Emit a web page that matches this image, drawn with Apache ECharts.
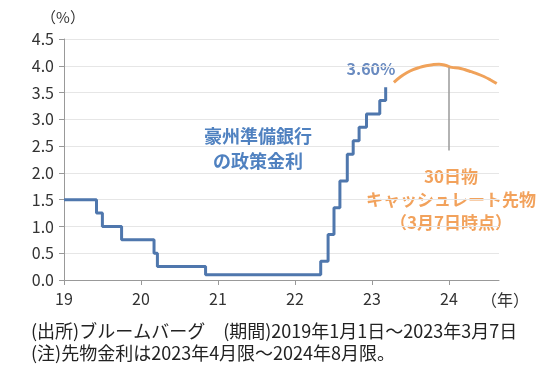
<!DOCTYPE html>
<html lang="ja">
<head>
<meta charset="UTF-8">
<script src="https://cdn.jsdelivr.net/npm/echarts@6/dist/echarts.min.js"></script>
<style>
  html, body { margin: 0; padding: 0; background: #fff; }
  #container { width: 540px; height: 377px; }
</style>
</head>
<body>
<div id="container"></div>
<script>
  // 政策金利 (変更日, %)
  var rateDates = ['2019-01-01', '2019-06-04', '2019-07-02', '2019-10-01', '2020-03-03', '2020-03-19',
    '2020-11-03', '2022-05-03', '2022-06-07', '2022-07-05', '2022-08-02', '2022-09-06', '2022-10-04',
    '2022-11-01', '2022-12-06', '2023-02-07', '2023-03-07'];
  var rateValues = [1.50, 1.25, 1.00, 0.75, 0.50, 0.25, 0.10, 0.35, 0.85, 1.35, 1.85, 2.35, 2.60,
    2.85, 3.10, 3.35, 3.60];

  // 30日物キャッシュレート先物 (限月の中旬に表示, %)
  var futMonths = ['2023-04-15', '2023-05-15', '2023-06-15', '2023-07-15', '2023-08-15', '2023-09-15',
    '2023-10-15', '2023-11-15', '2023-12-15', '2024-01-15', '2024-02-15', '2024-03-15', '2024-04-15',
    '2024-05-15', '2024-06-15', '2024-07-15', '2024-08-15'];
  var futValues = [3.69, 3.79, 3.87, 3.93, 3.97, 4.00, 4.02, 4.03, 4.01, 3.97, 3.96, 3.93, 3.89,
    3.85, 3.80, 3.74, 3.67];

  var yTicks = [0, 0.5, 1, 1.5, 2, 2.5, 3, 3.5, 4, 4.5];

  function toYear(s) {
    var p = s.split('-');
    var y = +p[0], m = +p[1] - 1, d = p[2] ? +p[2] : 1;
    var start = Date.UTC(y, 0, 1), end = Date.UTC(y + 1, 0, 1);
    return y + (Date.UTC(y, m, d) - start) / (end - start);
  }

  var rateData = rateDates.map(function (d, i) { return [toYear(d), rateValues[i]]; });
  var futData = futMonths.map(function (d, i) { return [toYear(d), futValues[i]]; });

  var jp = '"Noto Sans CJK JP", sans-serif';
  var blue = '#4f77ad';
  var orange = '#f0a25a';

  function label(x, y, text, font, fill, align) {
    return {
      type: 'text', x: x, y: y,
      style: { text: text, font: font + ' ' + jp, fill: fill, align: align || 'center', verticalAlign: 'middle' }
    };
  }

  var chart = echarts.init(document.getElementById('container'));
  chart.setOption({
    animation: false,
    grid: { left: 64, right: 41, top: 39, bottom: 97 },
    xAxis: {
      type: 'value', min: 2019, max: 2024.65, interval: 1,
      axisLine: { lineStyle: { color: '#999' } },
      axisTick: { show: true, length: 5, lineStyle: { color: '#999' } },
      splitLine: { show: false },
      axisLabel: {
        color: '#333', fontSize: 16, fontFamily: jp, margin: 11,
        showMaxLabel: false,
        formatter: function (v) { return String(Math.round(v) % 100); }
      }
    },
    yAxis: {
      type: 'value', min: 0, max: 4.5, interval: 0.5,
      axisLine: { show: true, lineStyle: { color: '#999' } },
      axisTick: { show: true, length: 5, lineStyle: { color: '#999' } },
      splitLine: { lineStyle: { color: '#e6e6e6' } },
      axisLabel: {
        color: '#333', fontSize: 16, fontFamily: jp, margin: 10,
        formatter: function (v) { return v.toFixed(1); }
      }
    },
    series: [
      {
        type: 'line', step: 'end', data: rateData, symbol: 'none',
        lineStyle: { color: blue, width: 3 }
      },
      {
        type: 'line', smooth: 0.4, data: futData, symbol: 'none',
        lineStyle: { color: orange, width: 3 },
        markLine: {
          silent: true, symbol: 'none', label: { show: false },
          lineStyle: { color: '#9a9a9a', width: 1.5, type: 'solid' },
          data: [[{ coord: [2024, 2.42] }, { coord: [2024, 3.97] }]]
        }
      }
    ],
    graphic: [
      label(63, 17, '（%）', '15px', '#333'),
      label(505, 300, '（年）', '16px', '#333'),
      label(371, 69, '3.60%', 'bold 16px', '#6a8bc0'),
      label(258, 136, '豪州準備銀行', 'bold 18px', '#4f81c0'),
      label(258, 161, 'の政策金利', 'bold 18px', '#4f81c0'),
      label(451, 177, '30日物', 'bold 17px', '#f2a25c'),
      label(451, 200, 'キャッシュレート先物', 'bold 17px', '#f2a25c'),
      label(451, 223, '（3月7日時点）', 'bold 17px', '#f2a25c'),
      label(31, 331, '(出所)ブルームバーグ　(期間)2019年1月1日～2023年3月7日', '18px', '#222', 'left'),
      label(31, 353, '(注)先物金利は2023年4月限～2024年8月限。', '18px', '#222', 'left')
    ]
  });
</script>
</body>
</html>
